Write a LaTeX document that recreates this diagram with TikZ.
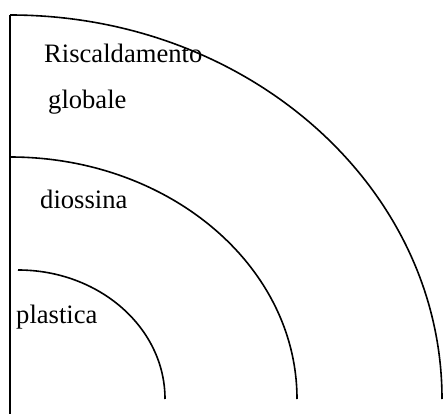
\documentclass[tikz,border=0pt]{standalone}
\usepackage{fontspec}
\setmainfont{Liberation Serif}
\begin{document}
\begin{tikzpicture}[x=1pt,y=-1pt,
  arcline/.style={line width=1.6pt},
  lbl/.style={anchor=base west, inner sep=0pt, font=\fontsize{26.6}{32}\selectfont}]
\useasboundingbox (0,0) rectangle (444,414);
\coordinate (vtop) at (10,15);
\coordinate (vbot) at (10,414);
\draw[arcline] (vbot) -- (vtop);
\draw[arcline] (vtop) arc[start angle=-90, end angle=0, x radius=432, y radius=384];
\coordinate (mtop) at (10,157);
\draw[arcline] (mtop) arc[start angle=-90, end angle=0, x radius=287, y radius=242];
\coordinate (itop) at (18,270);
\draw[arcline] (itop) arc[start angle=-90, end angle=0, x radius=147, y radius=129];
\node[lbl] (t1) at (44,63) {Riscaldamento};
\node[lbl] (t2) at (48,109) {globale};
\node[lbl] (t3) at (40,208) {diossina};
\node[lbl] (t4) at (16,323) {plastica};
\end{tikzpicture}
\end{document}
